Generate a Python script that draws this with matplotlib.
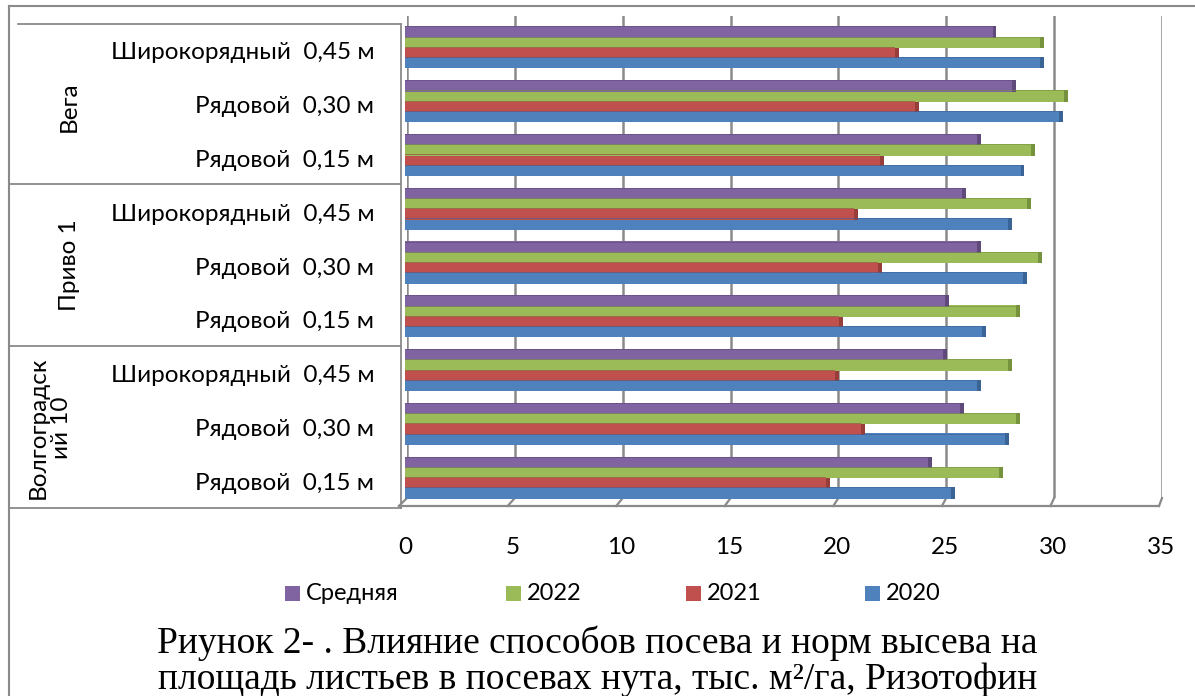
import matplotlib
matplotlib.use("Agg")
import matplotlib.pyplot as plt
from matplotlib.lines import Line2D
from matplotlib.patches import Rectangle
import numpy as np

# ---- data (bottom row first) ----
group_labels = ["Волгоградск\nий 10", "Приво 1", "Вега"]
methods = ["Рядовой  0,15 м", "Рядовой  0,30 м", "Широкорядный  0,45 м"]
series_names = ["2020", "2021", "2022", "Средняя"]
y2020 = [25.3, 27.8, 26.5, 26.7, 28.6, 27.9, 28.5, 30.3, 29.4]
y2021 = [19.5, 21.1, 19.9, 20.1, 21.9, 20.8, 22.0, 23.6, 22.7]
y2022 = [27.5, 28.3, 27.9, 28.3, 29.3, 28.8, 29.0, 30.5, 29.4]
y_avg = [24.2, 25.7, 24.9, 25.0, 26.5, 25.8, 26.5, 28.1, 27.2]
x_ticks = [0, 5, 10, 15, 20, 25, 30, 35]

colors = ["#4F81BD", "#C0504D", "#9BBB59", "#8064A2"]
dark = ["#3A6396", "#973D3A", "#76923C", "#5F4A7B"]

W, H = 1195, 696
fig = plt.figure(figsize=(W / 100, H / 100), dpi=100)
fig.patch.set_facecolor("white")

LABEL_FONT = ["Lato", "DejaVu Sans"]
FS = 17.5


def fx(x):
    return x / W


def fy(y):
    return 1 - y / H


def box(l, t, r, b):
    return [fx(l), fy(b), fx(r) - fx(l), fy(t) - fy(b)]


# back wall with vertical gridlines
wall = fig.add_axes(box(407, 16, 1162, 498), zorder=0)
wall.set_xlim(0, 35)
wall.set_ylim(0, 1)
wall.axis("off")
for v in x_ticks:
    wall.axvline(v, color="#8a8a8a", lw=1.8, zorder=1)

# main plotting axes
ax = fig.add_axes(box(405, 24, 1161, 508), zorder=2)
ax.patch.set_alpha(0)
ax.set_xlim(0, 35)
ax.set_ylim(-0.5, 8.5)
for s in ax.spines.values():
    s.set_visible(False)

n = len(y2020)
idx = np.arange(n)
h = 0.19
shift = 0.065
cap = 0.18
all_series = [y2020, y2021, y2022, y_avg]
for k, vals in enumerate(all_series):
    ypos = idx + shift + (k - 1.5) * h
    # slightly taller than the slot so neighbouring bars meet without seams
    ax.barh(ypos, vals, height=h * 1.12, color=colors[k], linewidth=0,
            zorder=3 + k * 0.1)
    ax.barh(ypos, [cap] * n, left=vals, height=h * 1.12, color=dark[k],
            linewidth=0, zorder=3 + k * 0.1)
    # thin darker rim along the top edge
    ax.barh(ypos + h * 0.5, vals, height=h * 0.1, color=dark[k],
            linewidth=0, zorder=3.5, alpha=0.6)

ax.set_xticks(x_ticks)
ax.set_xticklabels([str(v) for v in x_ticks], family=LABEL_FONT, fontsize=FS)
ax.set_yticks(idx)
ax.set_yticklabels(methods * 3, family=LABEL_FONT, fontsize=FS)
ax.tick_params(axis="x", length=0, pad=21)
ax.tick_params(axis="y", length=0, pad=22)

# floor: front edge and diagonal ticks
line_kw = dict(color="#8a8a8a", lw=1.6, transform=fig.transFigure)
fig.add_artist(Line2D([fx(399), fx(1159)], [fy(506), fy(506)], **line_kw))
for v in x_ticks:
    xb = 407 + v * (1162 - 407) / 35
    xf = 399 + v * (1159 - 399) / 35
    fig.add_artist(Line2D([fx(xb), fx(xf)], [fy(498), fy(506)], **line_kw))

# category table on the left
tab_kw = dict(color="#8a8a8a", lw=1.3, transform=fig.transFigure)
fig.add_artist(Line2D([fx(18), fx(401)], [fy(24), fy(24)], **tab_kw))
for yy in (184, 346, 508):
    fig.add_artist(Line2D([fx(10), fx(401)], [fy(yy), fy(yy)], **tab_kw))
fig.add_artist(Line2D([fx(401), fx(401)], [fy(24), fy(508)], **tab_kw))

group_pos = [(50, 428), (69, 265), (69, 107)]
for lbl, (gx, gy) in zip(group_labels, group_pos):
    fig.text(fx(gx), fy(gy), lbl, rotation=90, ha="center", va="center",
             family=LABEL_FONT, fontsize=FS, linespacing=1.15,
             multialignment="center")

# outer frame
frame_kw = dict(color="#8a8a8a", lw=1.5, transform=fig.transFigure)
fig.add_artist(Line2D([fx(9), fx(9)], [fy(6), fy(H + 5)], **frame_kw))
fig.add_artist(Line2D([fx(9), fx(W + 5)], [fy(6), fy(6)], **frame_kw))

# legend
legend_items = [("Средняя", colors[3], 285), ("2022", colors[2], 506),
                ("2021", colors[1], 686), ("2020", colors[0], 865)]
ly = 594
for name, col, lx in legend_items:
    fig.add_artist(Rectangle((fx(lx), fy(ly + 7)), fx(15), 15 / H,
                             facecolor=col, edgecolor="none",
                             transform=fig.transFigure))
    fig.text(fx(lx + 21), fy(ly), name, ha="left", va="center",
             family=LABEL_FONT, fontsize=FS - 0.5)

# caption
cap_font = ["Liberation Serif", "DejaVu Serif"]
fig.text(0.5, fy(643), "Риунок 2- . Влияние способов посева и норм высева на",
         ha="center", va="center", family=cap_font, fontsize=27)
fig.text(0.5, fy(680), "площадь листьев в посевах нута, тыс. м²/га, Ризотофин",
         ha="center", va="center", family=cap_font, fontsize=27)

fig.savefig("out.png", dpi=100)
